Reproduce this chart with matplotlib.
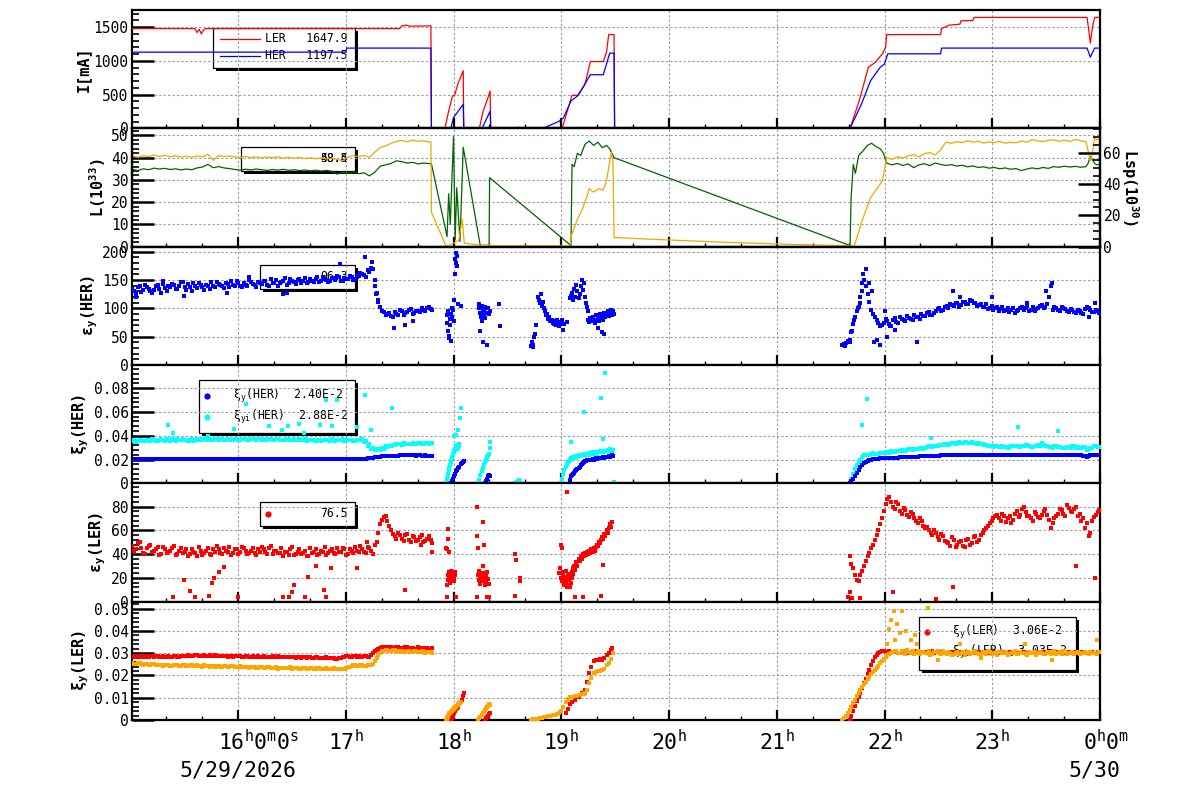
import numpy as np
import matplotlib
matplotlib.use("Agg")
import matplotlib.pyplot as plt
from matplotlib.patches import Rectangle
from matplotlib.lines import Line2D
from matplotlib.ticker import MultipleLocator, FixedLocator, FuncFormatter
import matplotlib.transforms as mtransforms

# ======================= DATA (hours of 5/29/2026) =======================
# Panel 1: beam currents [mA]
LER_T = [15.02, 15.60, 15.62, 15.64, 15.66, 15.68, 15.70, 17.50, 17.52, 17.56, 17.60, 17.79, 17.795,
         17.92, 17.955, 17.99, 18.01, 18.04, 18.09, 18.095, 18.24, 18.275, 18.32, 18.34, 18.345,
         18.58, 18.60, 18.62, 18.79, 19.01, 19.10, 19.16, 19.22, 19.27, 19.39, 19.42, 19.44, 19.49, 19.495,
         21.68, 21.765, 21.85, 21.915, 21.98, 22.01, 22.02, 22.52, 22.53, 22.60, 22.70, 22.71, 22.82, 22.83,
         23.88, 23.90, 23.91, 23.93, 23.95, 24.0]
LER_I = [1480, 1480, 1420, 1470, 1400, 1460, 1480, 1480, 1520, 1530, 1515, 1520, 0,
         0, 255, 480, 490, 655, 855, 0, 0, 255, 455, 555, 0,
         0, 20, 0, 0, 10, 490, 490, 655, 990, 990, 1130, 1390, 1390, 0,
         0, 405, 905, 980, 1105, 1200, 1390, 1390, 1480, 1530, 1545, 1595, 1600, 1645,
         1645, 1400, 1265, 1500, 1645, 1645]
HER_T = [15.02, 15.04, 17.00, 17.01, 17.79, 17.795, 17.975, 17.99, 18.0, 18.09, 18.095,
         18.265, 18.34, 18.345, 18.83, 18.98, 19.02, 19.09, 19.15, 19.20, 19.27, 19.39, 19.42, 19.45,
         19.49, 19.495, 21.68, 21.785, 21.87, 21.96, 22.00, 22.03, 22.52, 22.53, 23.88, 23.91, 23.95, 24.0]
HER_I = [1100, 1130, 1130, 1190, 1190, 0, 0, 100, 160, 355, 0,
         0, 255, 0, 0, 105, 155, 405, 480, 605, 795, 795, 955, 1115,
         1115, 0, 0, 355, 705, 905, 955, 1105, 1105, 1190, 1190, 1055, 1190, 1190]

# Panel 2: luminosity (orange) and specific luminosity (green); 3-minute samples + explicit points
LUM_A0 = 15.02
LUM_A = [40.8, 40.2, 40.9, 40.5, 41.2, 40.6, 41.0, 40.4, 40.9, 40.3, 40.7, 40.2, 40.8, 40.4, 41.5, 38.8,
         41.0, 40.5, 40.8, 40.3, 40.1, 40.6, 40.0, 40.4, 39.9, 40.3, 40.0, 40.4, 39.8, 40.2, 39.7, 40.1,
         39.6, 40.0, 39.5, 39.9, 39.4, 39.8, 39.2, 38.6, 40.3, 40.9, 40.5, 41.0, 40.2, 42.5, 44.6, 45.2,
         46.5, 47.3, 47.8, 47.2, 47.9, 47.4, 47.6, 47.0]
LUM_B_T = [17.79, 17.795, 17.93, 17.95, 18.0, 18.05, 18.08, 18.10, 18.2, 18.33, 18.34, 19.08, 19.09,
           19.15, 19.195, 19.24, 19.26, 19.30, 19.345, 19.39, 19.42, 19.44, 19.465, 19.48, 19.49,
           19.86, 20.5, 21.14, 21.62, 21.72, 21.79, 21.87, 21.98]
LUM_B = [47.2, 15.5, 0.3, 0.5, 1.5, 3.0, 12.5, 1.5, 1.0, 0.8, 0.4, 0.4, 4.5,
         12.3, 16.8, 22.9, 26.0, 24.5, 26.0, 25.5, 29.5, 35.6, 42.4, 38.0, 4.1,
         3.3, 2.0, 1.0, 0.5, 0.3, 11.4, 22.0, 29.5]
LUM_C0 = 22.02
LUM_C = [40.1, 39.2, 40.5, 39.8, 40.8, 41.3, 40.4, 41.8, 42.3, 41.2, 43.5, 47.0, 46.5, 47.2, 46.8, 47.6,
         47.0, 47.4, 46.6, 47.1, 46.8, 47.3, 46.5, 47.0, 46.7, 47.5, 47.0, 48.1, 47.6, 47.2, 47.8, 48.0,
         47.4, 47.9, 47.3, 48.2, 47.6, 47.2]
LUM_D_T = [23.89, 23.91, 23.93, 23.95, 23.97, 24.0]
LUM_D = [43.0, 38.5, 42.0, 49.2, 48.0, 48.5]

LSP_A = [34.8, 34.2, 35.0, 34.6, 35.3, 34.9, 35.2, 34.7, 35.0, 34.5, 34.9, 34.6, 35.4, 35.8, 37.0, 35.5,
         36.0, 35.4, 35.1, 34.7, 34.4, 34.8, 34.5, 34.9, 34.6, 34.3, 34.7, 34.4, 34.8, 34.3, 34.6, 34.2,
         34.5, 34.1, 34.4, 34.0, 34.3, 33.9, 32.6, 33.4, 33.0, 33.5, 32.8, 33.2, 31.8, 33.5, 36.2, 36.8,
         37.4, 38.6, 38.2, 37.6, 37.9, 37.2, 37.6, 37.4]
LSP_B_T = [17.795, 17.94, 17.955, 17.97, 18.0, 18.015, 18.03, 18.06, 18.09, 18.25, 18.33, 18.335,
           19.09, 19.10, 19.12, 19.15, 19.18, 19.22, 19.26, 19.30, 19.34, 19.38, 19.42, 19.45, 19.49,
           21.68, 21.69, 21.71, 21.73, 21.76, 21.80, 21.84, 21.88, 21.92, 21.96, 21.99]
LSP_B = [37.2, 4.5, 23.8, 10.0, 49.5, 3.0, 26.5, 2.3, 44.7, 0.0, 0.0, 31.0,
         0.5, 37.0, 36.0, 42.0, 41.0, 46.0, 47.5, 45.5, 47.0, 44.5, 45.5, 44.0, 40.0,
         0.5, 22.0, 37.0, 33.0, 41.0, 43.0, 45.5, 46.5, 45.0, 44.0, 42.0]
LSP_C = [37.5, 36.8, 37.4, 36.5, 37.2, 35.5, 36.8, 37.3, 36.4, 37.6, 37.0, 36.5, 36.9, 36.2, 36.6, 35.9,
         36.3, 35.6, 35.9, 35.3, 35.6, 35.0, 35.4, 34.8, 35.1, 34.2, 34.9, 35.4, 35.0, 35.6, 35.2, 36.0,
         35.7, 36.2, 35.8, 36.1, 35.7, 36.0]
LSP_D = [37.5, 40.5, 39.0, 37.5, 36.8, 37.0]

# Panel 3: emittance HER (2-minute samples, second list offset by 1 minute, + explicit points)
EPSH_A0 = 15.02
EPSH_A = [135, 128, 140, 132, 138, 130, 133, 141, 127, 136, 139, 143, 135, 140, 146, 132, 138, 144, 136,
          141, 133, 140, 147, 137, 143, 139, 145, 138, 142, 148, 140, 144, 139, 147, 141, 146, 143, 149,
          140, 145, 150, 144, 148, 142, 151, 146, 150, 145, 153, 147, 149, 152, 146, 155, 150, 148, 153,
          157, 149, 154, 151, 156, 152, 158, 161, 155, 165, 170, 128, 102, 94, 90, 86, 93, 88, 95, 92,
          97, 90, 96, 94, 98, 101, 99]
EPSH_A2 = [131, 137, 129, 142, 134, 127, 139, 135, 143, 130, 137, 141, 134, 147, 138, 143, 131, 139, 145,
           137, 142, 135, 139, 146, 141, 136, 143, 149, 139, 144, 137, 142, 150, 143, 138, 145, 148, 141,
           152, 144, 139, 147, 153, 145, 149, 143, 151, 148, 144, 152, 147, 155, 149, 151, 146, 154, 150,
           156, 148, 152, 158, 150, 155, 163, 159, 168, 172, 150, 115, 96, 88, 92, 84, 90, 97, 89, 94,
           99, 91, 95, 100, 96, 102, 97]
EPSH_C0 = 21.61
EPSH_C = [35, 38, 45, 72, 95, 110, 150, 125, 98, 85, 75, 70, 82, 72, 80, 76, 84, 79, 86, 81, 88, 84, 90,
          86, 93, 89, 96, 101, 98, 105, 108, 104, 110, 106, 112, 108, 113, 109, 106, 103, 107, 101, 98,
          103, 99, 95, 101, 97, 92, 98, 103, 100, 96, 102, 99, 104, 100, 108, 140, 102, 97, 103, 99, 94,
          98, 92, 96, 90, 102, 97, 93, 95]
EPSH_C2 = [37, 42, 58, 85, 102, 130, 140, 112, 90, 80, 68, 74, 78, 69, 83, 75, 81, 77, 83, 79, 85, 82,
           87, 92, 88, 91, 99, 95, 103, 100, 106, 109, 103, 111, 107, 114, 110, 105, 108, 102, 99, 104,
           100, 96, 102, 98, 94, 100, 96, 101, 97, 104, 98, 95, 101, 106, 103, 120, 98, 100, 95, 101,
           96, 99, 94, 97, 91, 99, 100, 94, 98, 92]
EPSH_X_T = [15.05, 15.3, 15.5, 15.9, 16.1, 16.42, 16.45, 16.95, 17.18, 17.24, 17.27, 17.28, 17.3, 17.45,
            17.55, 17.62,
            17.935, 17.94, 17.945, 17.95, 17.955, 17.96, 17.965, 17.97, 17.975, 17.98, 17.985, 17.99,
            17.995, 18.0, 18.005, 18.01, 18.015, 18.02, 18.025, 18.03, 18.035, 18.045, 18.07,
            18.235, 18.24, 18.245, 18.25, 18.255, 18.26, 18.265, 18.27, 18.275, 18.28, 18.285, 18.29,
            18.295, 18.30, 18.31, 18.32, 18.33, 18.34, 18.425, 18.43,
            18.72, 18.73, 18.735, 18.74, 18.75, 18.76, 18.77, 18.78, 18.79, 18.80, 18.81, 18.82, 18.83,
            18.84, 18.85, 18.86, 18.87, 18.88, 18.89, 18.90, 18.91, 18.92, 18.93, 18.94, 18.95, 18.96,
            18.97, 18.98, 18.99, 19.0, 19.01, 19.02, 19.03, 19.05,
            19.08, 19.09, 19.10, 19.11, 19.12, 19.13, 19.14, 19.15, 19.16, 19.17, 19.18, 19.19, 19.20,
            19.21, 19.22, 19.23, 19.24, 19.25,
            19.25, 19.26, 19.27, 19.28, 19.29, 19.30, 19.31, 19.32, 19.33, 19.34, 19.35, 19.36, 19.37,
            19.38, 19.39, 19.40, 19.41, 19.42, 19.43, 19.44, 19.45, 19.46, 19.47, 19.48, 19.49, 19.38,
            19.40, 19.34,
            21.63, 21.66, 21.68, 21.70, 21.72, 21.75, 21.77, 21.79, 21.80, 21.83, 21.86, 21.88, 21.90,
            21.93, 21.96, 22.0, 22.02, 22.05, 22.10, 22.30, 22.64, 22.70, 23.0, 23.32, 23.5, 23.55,
            23.90, 23.95]
EPSH_X = [120, 148, 122, 128, 155, 125, 127, 178, 190, 182, 140, 125, 112, 65, 70, 78,
          88, 75, 95, 60, 52, 48, 82, 70, 42, 90, 100, 85, 98, 115, 78, 160, 188, 197, 180, 192, 175,
          108, 105,
          108, 100, 92, 60, 85, 105, 78, 98, 40, 88, 95, 102, 83, 92, 35, 100, 90, 95, 108, 68,
          34, 40, 32, 36, 50, 55, 70, 120, 115, 110, 125, 105, 112, 100, 96, 88, 90, 82, 85, 78, 80,
          75, 72, 77, 70, 80, 73, 68, 76, 72, 80, 62, 72, 76,
          118, 122, 128, 115, 135, 120, 142, 130, 118, 125, 140, 150, 132, 145, 120, 110, 102, 95,
          80, 76, 83, 78, 85, 80, 74, 88, 79, 84, 77, 90, 82, 86, 79, 92, 84, 88, 95, 86, 92, 98, 88,
          95, 90, 58, 55, 65,
          33, 40, 40, 60, 80, 100, 120, 145, 160, 170, 145, 130, 40, 45, 35, 95, 50, 68, 62, 40, 130,
          120, 120, 110, 130, 145, 85, 110]

# Panel 4: beam-beam parameter HER (xi_y blue, xi_yi cyan)
XIH_A0 = 15.02
XIH_A_B = [0.0207, 0.0204, 0.0206, 0.0205, 0.0207, 0.0204, 0.0206, 0.0205, 0.0203, 0.0206, 0.0205,
           0.0207, 0.0204, 0.0206, 0.0205, 0.0204, 0.0206, 0.0205, 0.0207, 0.0205, 0.0204, 0.0206,
           0.0205, 0.0206, 0.0204, 0.0205, 0.0206, 0.0204, 0.0205, 0.0206, 0.0205, 0.0204, 0.0205,
           0.0206, 0.0204, 0.0205, 0.0204, 0.0206, 0.0205, 0.0204, 0.0205, 0.0203, 0.0205, 0.0204,
           0.0206, 0.0204, 0.0203, 0.0205, 0.0204, 0.0203, 0.0205, 0.0204, 0.0203, 0.0204, 0.0202,
           0.0204, 0.0203, 0.0202, 0.0204, 0.0203, 0.0202, 0.0204, 0.0201, 0.0203, 0.0205, 0.0208,
           0.0212, 0.0216, 0.0220, 0.0224, 0.0227, 0.0229, 0.0231, 0.0232, 0.0233, 0.0234, 0.0235,
           0.0234, 0.0235, 0.0233, 0.0234, 0.0233, 0.0232, 0.0233]
XIH_A_B2 = [0.0205, 0.0206, 0.0204, 0.0206, 0.0205, 0.0206, 0.0204, 0.0206, 0.0205, 0.0204, 0.0206,
            0.0205, 0.0205, 0.0204, 0.0206, 0.0205, 0.0204, 0.0206, 0.0205, 0.0206, 0.0205, 0.0204,
            0.0206, 0.0205, 0.0205, 0.0206, 0.0204, 0.0205, 0.0206, 0.0204, 0.0205, 0.0206, 0.0204,
            0.0205, 0.0205, 0.0204, 0.0206, 0.0205, 0.0204, 0.0205, 0.0204, 0.0205, 0.0203, 0.0205,
            0.0204, 0.0205, 0.0204, 0.0203, 0.0205, 0.0204, 0.0203, 0.0204, 0.0203, 0.0205, 0.0203,
            0.0202, 0.0204, 0.0203, 0.0202, 0.0204, 0.0203, 0.0202, 0.0202, 0.0204, 0.0206, 0.0210,
            0.0214, 0.0218, 0.0222, 0.0226, 0.0228, 0.0230, 0.0232, 0.0233, 0.0234, 0.0235, 0.0234,
            0.0235, 0.0234, 0.0234, 0.0233, 0.0234, 0.0232, 0.0233]
XIH_A_C = [0.0355, 0.0348, 0.0362, 0.0358, 0.0365, 0.0352, 0.0368, 0.0360, 0.0371, 0.0357, 0.0364,
           0.0369, 0.0358, 0.0366, 0.0372, 0.0361, 0.0367, 0.0359, 0.0370, 0.0364, 0.0374, 0.0362,
           0.0368, 0.0372, 0.0365, 0.0370, 0.0363, 0.0375, 0.0368, 0.0371, 0.0364, 0.0373, 0.0367,
           0.0376, 0.0369, 0.0372, 0.0365, 0.0370, 0.0374, 0.0366, 0.0371, 0.0363, 0.0368, 0.0372,
           0.0364, 0.0369, 0.0362, 0.0367, 0.0371, 0.0363, 0.0366, 0.0360, 0.0368, 0.0362, 0.0365,
           0.0359, 0.0366, 0.0361, 0.0364, 0.0358, 0.0363, 0.0367, 0.0360, 0.0365, 0.0370, 0.0355,
           0.0330, 0.0300, 0.0285, 0.0280, 0.0290, 0.0305, 0.0315, 0.0320, 0.0330, 0.0326, 0.0334,
           0.0330, 0.0336, 0.0331, 0.0338, 0.0333, 0.0340, 0.0336]
XIH_A_C2 = [0.0361, 0.0352, 0.0368, 0.0356, 0.0363, 0.0370, 0.0358, 0.0366, 0.0362, 0.0369, 0.0359,
            0.0365, 0.0372, 0.0363, 0.0368, 0.0357, 0.0371, 0.0365, 0.0362, 0.0373, 0.0366, 0.0370,
            0.0361, 0.0369, 0.0374, 0.0364, 0.0371, 0.0366, 0.0373, 0.0362, 0.0369, 0.0375, 0.0364,
            0.0371, 0.0367, 0.0374, 0.0362, 0.0368, 0.0371, 0.0364, 0.0373, 0.0366, 0.0362, 0.0370,
            0.0367, 0.0361, 0.0369, 0.0364, 0.0360, 0.0368, 0.0363, 0.0367, 0.0359, 0.0366, 0.0362,
            0.0369, 0.0360, 0.0365, 0.0370, 0.0361, 0.0366, 0.0359, 0.0368, 0.0362, 0.0345, 0.0318,
            0.0292, 0.0282, 0.0286, 0.0298, 0.0310, 0.0318, 0.0324, 0.0331, 0.0328, 0.0335, 0.0327,
            0.0333, 0.0329, 0.0337, 0.0332, 0.0339, 0.0334, 0.0341]
XIH_C0 = 21.677
XIH_C_B = [0.0, 0.004, 0.009, 0.014, 0.017, 0.019, 0.0200, 0.0205, 0.0208, 0.0210, 0.0212, 0.0213,
           0.0215, 0.0216, 0.0218, 0.0219, 0.0221, 0.0222, 0.0224, 0.0225, 0.0226, 0.0228, 0.0229,
           0.0230, 0.0232, 0.0233, 0.0234, 0.0235, 0.0236, 0.0237, 0.0238, 0.0238, 0.0239, 0.0240,
           0.0239, 0.0240, 0.0241, 0.0240, 0.0239, 0.0240, 0.0241, 0.0240, 0.0239, 0.0240, 0.0241,
           0.0240, 0.0240, 0.0239, 0.0240, 0.0241, 0.0240, 0.0239, 0.0240, 0.0241, 0.0240, 0.0239,
           0.0240, 0.0241, 0.0240, 0.0240, 0.0239, 0.0241, 0.0240, 0.0239, 0.0240, 0.0232, 0.0225,
           0.0238, 0.0241, 0.0240]
XIH_C_B2 = [0.002, 0.0065, 0.0115, 0.0155, 0.018, 0.0195, 0.0203, 0.0207, 0.0209, 0.0211, 0.0213,
            0.0214, 0.0216, 0.0217, 0.0219, 0.0220, 0.0222, 0.0223, 0.0225, 0.0226, 0.0227, 0.0229,
            0.0230, 0.0231, 0.0233, 0.0234, 0.0235, 0.0236, 0.0237, 0.0238, 0.0239, 0.0239, 0.0240,
            0.0240, 0.0240, 0.0241, 0.0240, 0.0239, 0.0240, 0.0241, 0.0240, 0.0240, 0.0239, 0.0241,
            0.0240, 0.0240, 0.0239, 0.0240, 0.0241, 0.0240, 0.0239, 0.0240, 0.0241, 0.0240, 0.0240,
            0.0239, 0.0241, 0.0240, 0.0240, 0.0239, 0.0240, 0.0241, 0.0240, 0.0240, 0.0236, 0.0228,
            0.0230, 0.0240, 0.0241, 0.0240]
XIH_C_C = [0.0, 0.008, 0.015, 0.020, 0.0236, 0.024, 0.0245, 0.025, 0.0248, 0.0255, 0.026, 0.0258,
           0.0265, 0.027, 0.0268, 0.0275, 0.028, 0.0285, 0.029, 0.0288, 0.0295, 0.030, 0.031, 0.0305,
           0.0315, 0.032, 0.0325, 0.033, 0.0328, 0.0335, 0.034, 0.0338, 0.0345, 0.034, 0.0348, 0.0342,
           0.0335, 0.033, 0.032, 0.031, 0.0305, 0.031, 0.0302, 0.0308, 0.030, 0.031, 0.0315, 0.0305,
           0.031, 0.032, 0.0312, 0.0305, 0.031, 0.0318, 0.0325, 0.031, 0.0302, 0.031, 0.0305, 0.030,
           0.0298, 0.0305, 0.031, 0.0295, 0.030, 0.0302, 0.028, 0.0295, 0.031, 0.0305]
XIH_C_C2 = [0.004, 0.012, 0.018, 0.022, 0.0242, 0.0238, 0.0252, 0.0246, 0.0258, 0.0252, 0.0262,
            0.0268, 0.0262, 0.0272, 0.0278, 0.0272, 0.0285, 0.0282, 0.0292, 0.0298, 0.0292, 0.0305,
            0.0312, 0.0318, 0.0312, 0.0325, 0.0332, 0.0325, 0.0338, 0.0332, 0.0345, 0.0338, 0.0350,
            0.0335, 0.0340, 0.0332, 0.0328, 0.0322, 0.0315, 0.0312, 0.0318, 0.0305, 0.0312, 0.0302,
            0.0308, 0.0318, 0.0310, 0.0302, 0.0315, 0.0325, 0.0308, 0.0315, 0.0322, 0.0335, 0.0315,
            0.0308, 0.0300, 0.0312, 0.0302, 0.0296, 0.0308, 0.0300, 0.0312, 0.0303, 0.0296, 0.0305,
            0.0290, 0.0300, 0.0312, 0.0302]
XIH_XB_T = [17.975, 17.985, 17.995, 18.005, 18.015, 18.025, 18.035, 18.045, 18.055, 18.065, 18.075,
            18.085, 18.095, 18.29, 18.30, 18.31, 18.32, 18.33, 18.335,
            19.08, 19.09, 19.10, 19.11, 19.12, 19.13, 19.14, 19.15, 19.16, 19.17, 19.18, 19.19, 19.20,
            19.21, 19.22, 19.23, 19.24, 19.25, 19.26, 19.27, 19.28, 19.29, 19.30, 19.31, 19.32, 19.33,
            19.34, 19.35, 19.36, 19.37, 19.38, 19.39, 19.40, 19.41, 19.42, 19.43, 19.44, 19.45, 19.46,
            19.47, 19.48]
XIH_XB = [0.0, 0.002, 0.004, 0.006, 0.008, 0.010, 0.011, 0.013, 0.014, 0.016, 0.017, 0.018, 0.0185,
          0.0, 0.002, 0.004, 0.006, 0.007, 0.0065,
          0.003, 0.006, 0.007, 0.008, 0.009, 0.010, 0.011, 0.012, 0.013, 0.014, 0.015, 0.016, 0.017,
          0.018, 0.0185, 0.019, 0.0195, 0.020, 0.020, 0.0195, 0.020, 0.0205, 0.020, 0.0205, 0.021,
          0.0205, 0.021, 0.021, 0.0215, 0.021, 0.0215, 0.022, 0.0215, 0.022, 0.0225, 0.022, 0.023,
          0.0225, 0.023, 0.0235, 0.023]
XIH_XC_T = [17.932, 17.937, 17.942, 17.947, 17.952, 17.957, 17.962, 17.967, 17.972, 17.977, 17.982,
            17.987, 17.992, 17.997, 18.002, 18.007, 18.012, 18.017, 18.022, 18.027, 18.032, 18.037,
            18.042, 18.047, 18.052, 18.0, 18.02, 18.06, 18.069, 18.04,
            18.231, 18.24, 18.25, 18.26, 18.27, 18.28, 18.29, 18.30, 18.31, 18.32, 18.33, 18.335, 18.338,
            18.575, 18.585, 18.595, 18.605, 18.615,
            19.0, 19.01, 19.02, 19.03, 19.04, 19.05, 19.06, 19.07, 19.08, 19.09, 19.10, 19.11, 19.12,
            19.13, 19.14, 19.15, 19.16, 19.17, 19.18, 19.19, 19.20, 19.21, 19.22, 19.23, 19.24, 19.25,
            19.26, 19.27, 19.28, 19.29, 19.30, 19.31, 19.32, 19.33, 19.34, 19.35, 19.36, 19.37, 19.38,
            19.39, 19.40, 19.41, 19.42, 19.43, 19.44, 19.45, 19.46, 19.47, 19.48,
            19.09, 19.21, 19.37, 19.41, 19.39, 19.49,
            15.35, 15.40, 15.72, 15.96, 16.07, 16.29, 16.41, 16.46, 16.57, 16.61, 16.76, 16.82, 16.87,
            16.92, 17.10, 17.18, 17.23, 17.43, 21.79, 21.84, 22.43, 23.24, 23.61]
XIH_XC = [0.0, 0.002, 0.004, 0.006, 0.008, 0.011, 0.013, 0.015, 0.017, 0.019, 0.021, 0.022, 0.024,
          0.025, 0.027, 0.026, 0.028, 0.029, 0.030, 0.031, 0.029, 0.032, 0.030, 0.031, 0.033, 0.040,
          0.041, 0.055, 0.063, 0.045,
          0.0, 0.003, 0.007, 0.010, 0.013, 0.016, 0.018, 0.020, 0.022, 0.023, 0.025, 0.030, 0.035,
          0.0, 0.001, 0.002, 0.003, 0.002,
          0.0, 0.004, 0.008, 0.011, 0.014, 0.016, 0.018, 0.019, 0.020, 0.021, 0.0205, 0.022, 0.021,
          0.0215, 0.023, 0.022, 0.0235, 0.023, 0.024, 0.0235, 0.024, 0.025, 0.024, 0.025, 0.0245,
          0.025, 0.024, 0.0255, 0.025, 0.026, 0.025, 0.0255, 0.026, 0.025, 0.0265, 0.026, 0.027,
          0.026, 0.0265, 0.027, 0.026, 0.0275, 0.027, 0.028, 0.027, 0.0285, 0.028, 0.027, 0.028,
          0.035, 0.060, 0.072, 0.093, 0.037, 0.001,
          0.049, 0.042, 0.040, 0.046, 0.067, 0.048, 0.045, 0.048, 0.050, 0.042, 0.049, 0.070, 0.048,
          0.070, 0.047, 0.074, 0.045, 0.063, 0.049, 0.071, 0.038, 0.047, 0.044]

# Panel 5: emittance LER
EPSL_A0 = 15.02
EPSL_A = [47, 44, 50, 41, 45, 48, 43, 46, 40, 44, 42, 45, 39, 43, 41, 44, 40, 42, 38, 43, 41, 45, 39,
          42, 44, 40, 43, 46, 41, 44, 42, 45, 40, 43, 41, 44, 46, 42, 45, 40, 43, 41, 38, 42, 44, 39,
          42, 40, 43, 38, 41, 44, 40, 42, 39, 43, 41, 45, 42, 44, 40, 43, 46, 42, 44, 41, 45, 40, 50,
          65, 71, 68, 60, 55, 58, 53, 56, 52, 55, 51, 54, 50, 53, 52]
EPSL_A2 = [43, 49, 45, 40, 47, 42, 44, 39, 46, 41, 43, 47, 40, 45, 42, 38, 44, 41, 46, 39, 43, 40, 44,
           47, 41, 45, 42, 39, 44, 40, 46, 43, 41, 45, 39, 42, 44, 40, 47, 43, 41, 45, 42, 39, 46, 40,
           44, 41, 38, 45, 42, 39, 43, 46, 41, 44, 40, 42, 45, 39, 44, 41, 43, 47, 42, 46, 43, 48, 58,
           69, 72, 64, 57, 53, 56, 51, 57, 50, 54, 52, 56, 51, 55, 49]
EPSL_C0 = 21.677
EPSL_C = [38, 28, 18, 22, 30, 38, 45, 52, 60, 70, 82, 88, 80, 84, 76, 79, 73, 75, 70, 66, 68, 62, 60,
          56, 58, 52, 55, 50, 47, 52, 48, 51, 46, 53, 49, 55, 52, 58, 62, 66, 70, 73, 68, 72, 70, 66,
          74, 71, 78, 75, 72, 68, 74, 70, 76, 73, 62, 70, 74, 77, 72, 79, 75, 80, 74, 70, 66, 58, 71,
          75]
EPSL_C2 = [32, 22, 17, 26, 34, 41, 48, 56, 65, 76, 86, 84, 78, 82, 74, 77, 71, 74, 68, 70, 64, 63, 58,
           60, 54, 57, 51, 49, 54, 46, 50, 47, 52, 48, 54, 50, 56, 60, 64, 68, 72, 70, 74, 67, 72, 69,
           76, 73, 80, 72, 70, 75, 71, 73, 78, 69, 66, 72, 78, 74, 81, 76, 78, 72, 68, 62, 55, 68, 73,
           77]
EPSL_X_T = [15.40, 15.50, 15.55, 15.60, 15.73, 15.76, 15.78, 15.82, 15.87, 16.00, 16.42, 16.47, 16.50,
            16.52, 16.62, 16.65, 16.72, 16.80, 16.82, 16.86, 17.10, 17.20, 17.55, 17.70, 17.80,
            17.93, 17.935, 17.94, 17.945, 17.95, 17.955, 17.96, 17.965, 17.97, 17.975, 17.98, 17.985,
            17.99, 17.995, 18.0, 18.005, 18.01, 18.015, 18.02, 18.025, 17.945, 17.95, 17.94, 17.96,
            18.215, 18.22, 18.225, 18.23, 18.235, 18.24, 18.245, 18.25, 18.255, 18.26, 18.265, 18.27,
            18.275, 18.28, 18.285, 18.29, 18.295, 18.30, 18.305, 18.31, 18.315, 18.32, 18.325, 18.33,
            18.22, 18.575, 18.578, 18.615, 18.618, 18.575,
            18.98, 18.99, 19.0, 19.005, 19.01, 19.015, 19.02, 19.025, 19.03, 19.035, 19.04, 19.045,
            19.05, 19.055, 19.06, 19.065, 19.07, 19.075, 19.08, 19.085, 19.09, 19.095, 19.10, 19.105,
            19.11, 19.12, 19.13, 19.14, 19.15, 19.16, 19.17, 19.18, 19.19, 19.20, 19.21, 19.22, 19.23,
            19.24, 19.25, 19.26, 19.27, 19.28, 19.29, 19.30, 19.31, 19.32, 19.33, 19.34, 19.35, 19.36,
            19.37, 19.38, 19.39, 19.40, 19.41, 19.42, 19.43, 19.44, 19.45, 19.46, 19.47, 19.05, 19.0,
            19.39, 19.13, 19.2, 19.37,
            21.66, 21.68, 21.70, 21.77, 22.08, 22.48, 22.64, 23.78, 23.95]
EPSL_X = [4, 18, 9, 4, 5, 16, 20, 25, 29, 4, 4, 4, 8, 14, 4, 21, 30, 10, 4, 28, 28, 50, 10, 48, 42,
          45, 14, 4, 22, 18, 25, 20, 16, 23, 19, 26, 21, 18, 24, 20, 17, 25, 22, 4, 4, 61, 53, 44, 42,
          55, 80, 45, 22, 18, 26, 15, 20, 24, 17, 21, 30, 67, 48, 24, 19, 14, 22, 17, 25, 4, 19, 15,
          4, 4, 40, 35, 20, 17, 5,
          24, 28, 20, 45, 17, 25, 22, 14, 21, 18, 26, 15, 20, 12, 18, 23, 14, 19, 12, 22, 16, 25, 20,
          28, 23, 30, 27, 33, 30, 36, 34, 38, 36, 40, 38, 41, 39, 42, 40, 43, 41, 44, 42, 45, 43, 46,
          48, 47, 50, 49, 52, 54, 53, 57, 55, 60, 58, 62, 65, 63, 67, 92, 48, 31, 4, 4, 5,
          4, 8, 3, 3, 8, 2, 12, 30, 20]

# Panel 6: beam-beam parameter LER (xi_y red, xi_yi orange)
XIL_A0 = 15.02
XIL_A_R = [0.0287, 0.0284, 0.0286, 0.0283, 0.0285, 0.0287, 0.0284, 0.0286, 0.0285, 0.0283, 0.0286,
           0.0284, 0.0287, 0.0285, 0.0288, 0.0286, 0.0289, 0.0287, 0.0290, 0.0288, 0.0291, 0.0289,
           0.0287, 0.0290, 0.0288, 0.0286, 0.0289, 0.0287, 0.0285, 0.0288, 0.0286, 0.0284, 0.0287,
           0.0285, 0.0283, 0.0286, 0.0284, 0.0285, 0.0283, 0.0286, 0.0284, 0.0282, 0.0285, 0.0283,
           0.0281, 0.0284, 0.0282, 0.0280, 0.0283, 0.0281, 0.0279, 0.0282, 0.0280, 0.0278, 0.0281,
           0.0279, 0.0277, 0.0275, 0.0279, 0.0284, 0.0287, 0.0285, 0.0288, 0.0286, 0.0284, 0.0287,
           0.0285, 0.0300, 0.0316, 0.0323, 0.0328, 0.0326, 0.0329, 0.0325, 0.0327, 0.0323, 0.0326,
           0.0322, 0.0325, 0.0321, 0.0324, 0.0320, 0.0323, 0.0321]
XIL_A_R2 = [0.0285, 0.0288, 0.0283, 0.0287, 0.0284, 0.0286, 0.0288, 0.0283, 0.0287, 0.0285, 0.0284,
            0.0288, 0.0285, 0.0289, 0.0286, 0.0290, 0.0287, 0.0291, 0.0286, 0.0289, 0.0287, 0.0290,
            0.0288, 0.0286, 0.0289, 0.0287, 0.0285, 0.0288, 0.0286, 0.0287, 0.0284, 0.0286, 0.0283,
            0.0287, 0.0285, 0.0283, 0.0286, 0.0283, 0.0285, 0.0282, 0.0286, 0.0283, 0.0284, 0.0281,
            0.0283, 0.0280, 0.0284, 0.0281, 0.0279, 0.0282, 0.0280, 0.0281, 0.0278, 0.0280, 0.0277,
            0.0279, 0.0276, 0.0278, 0.0281, 0.0286, 0.0284, 0.0288, 0.0285, 0.0283, 0.0286, 0.0284,
            0.0292, 0.0309, 0.0320, 0.0326, 0.0330, 0.0327, 0.0324, 0.0328, 0.0325, 0.0321, 0.0327,
            0.0324, 0.0320, 0.0326, 0.0322, 0.0325, 0.0319, 0.0322]
XIL_A_O = [0.0257, 0.0252, 0.0254, 0.0249, 0.0252, 0.0248, 0.0250, 0.0246, 0.0249, 0.0245, 0.0248,
           0.0244, 0.0247, 0.0243, 0.0246, 0.0244, 0.0247, 0.0243, 0.0246, 0.0242, 0.0245, 0.0241,
           0.0244, 0.0240, 0.0243, 0.0239, 0.0242, 0.0240, 0.0243, 0.0239, 0.0241, 0.0238, 0.0240,
           0.0236, 0.0239, 0.0235, 0.0238, 0.0234, 0.0237, 0.0233, 0.0236, 0.0232, 0.0235, 0.0233,
           0.0236, 0.0232, 0.0234, 0.0231, 0.0234, 0.0230, 0.0233, 0.0231, 0.0234, 0.0230, 0.0232,
           0.0229, 0.0232, 0.0228, 0.0231, 0.0229, 0.0236, 0.0243, 0.0247, 0.0244, 0.0248, 0.0242,
           0.0246, 0.0252, 0.0278, 0.0302, 0.0312, 0.0315, 0.0310, 0.0313, 0.0308, 0.0312, 0.0307,
           0.0311, 0.0306, 0.0310, 0.0305, 0.0309, 0.0304, 0.0307]
XIL_A_O2 = [0.0253, 0.0256, 0.0250, 0.0253, 0.0247, 0.0251, 0.0245, 0.0248, 0.0244, 0.0247, 0.0243,
            0.0246, 0.0245, 0.0242, 0.0245, 0.0241, 0.0245, 0.0242, 0.0244, 0.0240, 0.0243, 0.0239,
            0.0242, 0.0241, 0.0238, 0.0241, 0.0238, 0.0242, 0.0237, 0.0240, 0.0236, 0.0239, 0.0235,
            0.0238, 0.0234, 0.0237, 0.0233, 0.0236, 0.0232, 0.0235, 0.0231, 0.0234, 0.0232, 0.0235,
            0.0231, 0.0233, 0.0230, 0.0233, 0.0229, 0.0232, 0.0230, 0.0233, 0.0229, 0.0231, 0.0228,
            0.0230, 0.0227, 0.0230, 0.0228, 0.0232, 0.0240, 0.0245, 0.0243, 0.0247, 0.0241, 0.0245,
            0.0249, 0.0264, 0.0292, 0.0308, 0.0314, 0.0309, 0.0314, 0.0307, 0.0311, 0.0306, 0.0312,
            0.0305, 0.0309, 0.0304, 0.0308, 0.0303, 0.0306, 0.0302]
XIL_C0_O = 21.61
XIL_C_O = [0.0, 0.002, 0.0045, 0.0075, 0.0106, 0.0135, 0.0160, 0.0182, 0.0205, 0.0225, 0.0243, 0.0265,
           0.0282, 0.0296, 0.0305, 0.0312, 0.0300, 0.0308, 0.0315, 0.0302, 0.0297, 0.0310, 0.0304,
           0.0299, 0.0308, 0.0296, 0.0305, 0.0300, 0.0311, 0.0298, 0.0303, 0.0295, 0.0307, 0.0301,
           0.0293, 0.0304, 0.0299, 0.0309, 0.0296, 0.0302, 0.0298, 0.0306, 0.0300, 0.0294, 0.0305,
           0.0299, 0.0291, 0.0303, 0.0308, 0.0297, 0.0302, 0.0296, 0.0306, 0.0300, 0.0293, 0.0304,
           0.0298, 0.0303, 0.0297, 0.0308, 0.0301, 0.0295, 0.0304, 0.0299, 0.0306, 0.0301, 0.0297,
           0.0303, 0.0300, 0.0305, 0.0302, 0.0298]
XIL_C_O2 = [0.001, 0.0032, 0.006, 0.009, 0.012, 0.0148, 0.017, 0.0195, 0.0215, 0.0235, 0.0255,
            0.0275, 0.0290, 0.0300, 0.0308, 0.0302, 0.0312, 0.0298, 0.0306, 0.0310, 0.0303, 0.0296,
            0.0307, 0.0300, 0.0293, 0.0304, 0.0309, 0.0297, 0.0302, 0.0306, 0.0294, 0.0303, 0.0298,
            0.0307, 0.0300, 0.0295, 0.0305, 0.0301, 0.0292, 0.0304, 0.0308, 0.0297, 0.0302, 0.0306,
            0.0299, 0.0304, 0.0296, 0.0301, 0.0298, 0.0305, 0.0300, 0.0294, 0.0303, 0.0307, 0.0299,
            0.0302, 0.0295, 0.0306, 0.0300, 0.0297, 0.0304, 0.0310, 0.0298, 0.0302, 0.0296, 0.0304,
            0.0300, 0.0306, 0.0298, 0.0303, 0.0300, 0.0305]
XIL_C0_R = 21.677
XIL_C_R = [0.0, 0.004, 0.0085, 0.0121, 0.0165, 0.0205, 0.0245, 0.0281, 0.0300, 0.0310, 0.0306, 0.0309,
           0.0304, 0.0307, 0.0303, 0.0306, 0.0302, 0.0305, 0.0308, 0.0304, 0.0307, 0.0303, 0.0306,
           0.0309, 0.0305, 0.0302, 0.0306, 0.0303, 0.0307, 0.0304, 0.0301, 0.0305, 0.0302, 0.0306,
           0.0303, 0.0300, 0.0304, 0.0301, 0.0305, 0.0302, 0.0299, 0.0303, 0.0300, 0.0304, 0.0301,
           0.0298, 0.0302, 0.0299, 0.0303, 0.0300, 0.0304, 0.0301, 0.0305, 0.0302, 0.0306, 0.0303,
           0.0300, 0.0304, 0.0301, 0.0305, 0.0302, 0.0306, 0.0303, 0.0299, 0.0303, 0.0306, 0.0302,
           0.0305, 0.0301, 0.0304]
XIL_C_R2 = [0.002, 0.0062, 0.0103, 0.0143, 0.0185, 0.0225, 0.0263, 0.0292, 0.0306, 0.0308, 0.0303,
            0.0307, 0.0305, 0.0302, 0.0306, 0.0304, 0.0307, 0.0303, 0.0305, 0.0302, 0.0306, 0.0304,
            0.0308, 0.0303, 0.0305, 0.0307, 0.0302, 0.0305, 0.0303, 0.0306, 0.0304, 0.0301, 0.0305,
            0.0302, 0.0304, 0.0301, 0.0303, 0.0305, 0.0300, 0.0304, 0.0301, 0.0303, 0.0299, 0.0302,
            0.0304, 0.0300, 0.0303, 0.0301, 0.0305, 0.0302, 0.0300, 0.0304, 0.0302, 0.0305, 0.0301,
            0.0304, 0.0302, 0.0306, 0.0303, 0.0301, 0.0305, 0.0302, 0.0304, 0.0301, 0.0305, 0.0303,
            0.0300, 0.0304, 0.0302, 0.0305]
XIL_XR_T = [17.975, 17.985, 17.995, 18.005, 18.015, 18.025, 18.035, 18.045, 18.055, 18.065, 18.075,
            18.085, 18.095, 18.29, 18.30, 18.31, 18.32, 18.33, 18.335,
            19.045, 19.06, 19.08, 19.10, 19.13, 19.16, 19.19, 19.22, 19.24, 19.26, 19.28, 19.30, 19.32,
            19.34, 19.36, 19.38, 19.40, 19.42, 19.44, 19.46, 19.47]
XIL_XR = [0.0, 0.001, 0.002, 0.003, 0.004, 0.005, 0.0055, 0.006, 0.007, 0.008, 0.009, 0.011, 0.012,
          0.0, 0.001, 0.0015, 0.002, 0.0025, 0.003,
          0.003, 0.005, 0.007, 0.008, 0.009, 0.0105, 0.012, 0.0135, 0.017, 0.021, 0.024, 0.0265,
          0.0268, 0.027, 0.0272, 0.027, 0.028, 0.029, 0.030, 0.0315, 0.0325]
XIL_XO_T = [17.932, 17.937, 17.942, 17.947, 17.952, 17.957, 17.962, 17.967, 17.972, 17.977, 17.982,
            17.987, 17.992, 17.997, 18.002, 18.007, 18.012, 18.017, 18.022, 18.027, 18.032, 18.037,
            18.042, 18.047, 18.052, 18.057, 18.062, 18.067,
            18.231, 18.24, 18.25, 18.26, 18.27, 18.28, 18.29, 18.30, 18.31, 18.32, 18.33, 18.335,
            18.72, 18.74, 18.76, 18.78, 18.80, 18.82, 18.84, 18.86, 18.88, 18.90, 18.92, 18.94, 18.96,
            18.98, 19.0, 19.02, 19.04, 19.06, 19.08, 19.10, 19.13, 19.15, 19.17, 19.19, 19.21, 19.22,
            19.24, 19.26, 19.28, 19.30, 19.32, 19.34, 19.36, 19.38, 19.40, 19.42, 19.44, 19.46, 19.48,
            22.02, 22.04, 22.06, 22.09, 22.10, 22.12, 22.14, 22.16, 22.20, 22.25, 22.28, 22.30, 22.40,
            22.50, 22.70, 22.90, 23.30, 23.55, 23.97]
XIL_XO = [0.0, 0.0005, 0.001, 0.0015, 0.002, 0.0025, 0.003, 0.0032, 0.0035, 0.0038, 0.004, 0.0042,
          0.0045, 0.0048, 0.005, 0.0052, 0.0055, 0.0058, 0.006, 0.0063, 0.0065, 0.0068, 0.007, 0.0072,
          0.0075, 0.0078, 0.008, 0.0082,
          0.0, 0.0008, 0.0015, 0.0022, 0.003, 0.0038, 0.0045, 0.0052, 0.006, 0.0065, 0.007, 0.0068,
          0.0002, 0.0003, 0.0004, 0.0006, 0.0008, 0.001, 0.0012, 0.0014, 0.0016, 0.0019, 0.0021,
          0.0024, 0.0026, 0.003, 0.004, 0.006, 0.008, 0.0095, 0.0102, 0.0105, 0.0108, 0.011, 0.0113,
          0.0116, 0.0119, 0.012, 0.0135, 0.0165, 0.019, 0.021, 0.0215, 0.022, 0.0222, 0.0225, 0.023,
          0.0245, 0.0255, 0.0275, 0.030,
          0.034, 0.041, 0.045, 0.049, 0.036, 0.043, 0.039, 0.049, 0.040, 0.036, 0.038, 0.034, 0.0505,
          0.027, 0.034, 0.028, 0.034, 0.027, 0.036]

# Legend texts
LEG1 = [("LER   1647.9", "#ff0000"), ("HER   1197.5", "#0000ff")]
LEG2 = ["58.5", "48.4"]
LEG3 = "96.3"
LEG4 = [(r"ξ$_\mathregular{y}$(HER)  2.40E-2", "#0000ff"), (r"ξ$_\mathregular{yi}$(HER)  2.88E-2", "#00ffff")]
LEG5 = "76.5"
LEG6 = [(r"ξ$_\mathregular{y}$(LER)  3.06E-2", "#ff0000"), (r"ξ$_\mathregular{yi}$(LER)  3.03E-2", "#ffa500")]

HOURS = [16, 17, 18, 19, 20, 21, 22, 23, 24]
HOUR_LABELS = [r"$\mathregular{16^h0^m0^s}$", r"$\mathregular{17^h}$", r"$\mathregular{18^h}$",
               r"$\mathregular{19^h}$", r"$\mathregular{20^h}$", r"$\mathregular{21^h}$",
               r"$\mathregular{22^h}$", r"$\mathregular{23^h}$", r"$\mathregular{0^h0^m}$"]
DATE_LABELS = [("5/29/2026", 16.0), ("5/30", 23.944)]

# ======================= STYLE =======================
plt.rcParams['font.family'] = ['DejaVu Sans Mono', 'DejaVu Sans']
plt.rcParams['mathtext.fontset'] = 'custom'
plt.rcParams['mathtext.rm'] = 'DejaVu Sans Mono'
plt.rcParams['mathtext.it'] = 'DejaVu Sans Mono'
plt.rcParams['mathtext.bf'] = 'DejaVu Sans Mono:bold'

W, H = 1200, 798
fig = plt.figure(figsize=(12, 7.98), dpi=100)

XMIN, XMAX = 15.016, 24.0
LEFT, RIGHT = 132, 1100
TOP0, PH = 10.0, 118.33

RED, BLUE, CYAN, ORANGE_S = "#ff0000", "#0000ff", "#00ffff", "#ffa500"
ORANGE_L, GREEN = "#eea800", "#006400"
ODD = 1.0 / 60.0   # second sample list is offset by one minute


def reg(t0, vals, dt_min):
    return t0 + np.arange(len(vals)) * dt_min / 60.0


def fmt(v, p):
    if abs(v) < 1e-12:
        return "0"
    return "%g" % v


axes = []
for k in range(6):
    top = TOP0 + k * PH
    ax = fig.add_axes([LEFT / W, 1 - (top + PH) / H, (RIGHT - LEFT) / W, PH / H])
    ax.set_xlim(XMIN, XMAX)
    for s in ax.spines.values():
        s.set_linewidth(1.6)
    ax.xaxis.set_major_locator(FixedLocator(HOURS))
    ax.xaxis.set_minor_locator(FixedLocator([h + f for h in range(15, 24) for f in (1 / 3, 2 / 3)]))
    ax.tick_params(axis='x', which='major', direction='in', length=7.5, width=1.6, top=False,
                   labelbottom=False)
    ax.tick_params(axis='x', which='minor', direction='in', length=3, width=1.0, top=False)
    ax.tick_params(axis='y', which='major', direction='in', length=16, width=1.8, right=False,
                   labelsize=10.5, pad=2.5)
    ax.tick_params(axis='y', which='minor', direction='in', length=5, width=1.2, right=False)
    ax.yaxis.set_major_formatter(FuncFormatter(fmt))
    ax.grid(True, which='major', color='#999999', linestyle=(0, (2, 2)), linewidth=0.8)
    axes.append(ax)

ax1, ax2, ax3, ax4, ax5, ax6 = axes
MS = 2.9


def pts(ax, t, v, c, ms=MS, z=3):
    ax.plot(t, v, ls='none', marker='s', ms=ms, mew=0, color=c, zorder=z)


def box(ax, x0, y0, x1, y1):
    ax.add_patch(Rectangle((x0 / W, 1 - y1 / H), (x1 - x0) / W, (y1 - y0) / H,
                           transform=fig.transFigure, fill=False, lw=0.9, ec='black',
                           zorder=1, clip_on=False))
    ax.add_patch(Rectangle((x1 / W, 1 - (y1 + 2.5) / H), 2.5 / W, (y1 - y0 - 0.5) / H,
                           transform=fig.transFigure, fc='black', lw=0, zorder=1, clip_on=False))
    ax.add_patch(Rectangle(((x0 + 3) / W, 1 - (y1 + 2.5) / H), (x1 - x0) / W, 2.5 / H,
                           transform=fig.transFigure, fc='black', lw=0, zorder=1, clip_on=False))


def ftext(ax, x, y, s, ha='left', size=8.3):
    ax.text(x / W, 1 - y / H, s, transform=fig.transFigure, ha=ha, va='center', fontsize=size,
            zorder=1, clip_on=False)


def fdot(ax, x, y, c, ms=4.5):
    ax.add_line(Line2D([x / W], [1 - y / H], transform=fig.transFigure, marker='o', ms=ms, mew=0,
                       color=c, ls='none', zorder=1, clip_on=False))


def fline(ax, x0, x1, y, c):
    ax.add_line(Line2D([x0 / W, x1 / W], [1 - y / H, 1 - y / H], transform=fig.transFigure,
                       color=c, lw=0.9, zorder=1, clip_on=False))


# ---- Panel 1
ax1.plot(LER_T, LER_I, color=RED, lw=0.9, zorder=3)
ax1.plot(HER_T, HER_I, color=BLUE, lw=0.9, zorder=3)
ax1.set_ylim(0, 1755)
ax1.yaxis.set_major_locator(MultipleLocator(500))
ax1.yaxis.set_minor_locator(MultipleLocator(100))
ax1.set_ylabel("I[mA]", fontsize=11, fontweight='bold', labelpad=2)
box(ax1, 213, 28, 355, 68)
fline(ax1, 220, 260, 38.5, LEG1[0][1])
ftext(ax1, 265, 38.5, LEG1[0][0])
fline(ax1, 220, 260, 55.5, LEG1[1][1])
ftext(ax1, 265, 55.5, LEG1[1][0])

# ---- Panel 2
lum_t = np.concatenate([reg(LUM_A0, LUM_A, 3), LUM_B_T, reg(LUM_C0, LUM_C, 3), LUM_D_T])
lum_v = np.concatenate([LUM_A, LUM_B, LUM_C, LUM_D])
lsp_t = np.concatenate([reg(LUM_A0, LSP_A, 3), LSP_B_T, reg(LUM_C0, LSP_C, 3), LUM_D_T])
lsp_v = np.concatenate([LSP_A, LSP_B, LSP_C, LSP_D])
ax2.plot(lsp_t, lsp_v, color=GREEN, lw=0.9, zorder=3)
ax2.plot(lum_t, lum_v, color=ORANGE_L, lw=0.9, zorder=3)
ax2.set_ylim(0, 53.2)
ax2.yaxis.set_major_locator(MultipleLocator(10))
ax2.yaxis.set_minor_locator(MultipleLocator(2))
ax2.set_ylabel(r"L(10$^\mathbf{33}$)", fontsize=11, fontweight='bold', labelpad=2)
tw = ax2.twinx()
tw.set_ylim(0, 75.5)
tw.yaxis.set_major_locator(MultipleLocator(20))
tw.yaxis.set_minor_locator(MultipleLocator(5))
tw.yaxis.set_major_formatter(FuncFormatter(fmt))
tw.tick_params(axis='y', which='major', direction='in', length=16, width=1.8, labelsize=10.5, pad=2.5)
tw.tick_params(axis='y', which='minor', direction='in', length=5, width=1.2)
tw.set_ylabel(r"Lsp(10$^\mathbf{30}$)", fontsize=11, fontweight='bold', rotation=270, labelpad=14)
for s in tw.spines.values():
    s.set_linewidth(1.6)
box(ax2, 241, 147, 355, 171)
ftext(ax2, 348, 158.5, LEG2[0], ha='right')
ftext(ax2, 348, 158.5, LEG2[1], ha='right')

# ---- Panel 3
pts(ax3, reg(EPSH_A0, EPSH_A, 2), EPSH_A, BLUE)
pts(ax3, reg(EPSH_A0 + ODD, EPSH_A2, 2), EPSH_A2, BLUE)
pts(ax3, reg(EPSH_C0, EPSH_C, 2), EPSH_C, BLUE)
pts(ax3, reg(EPSH_C0 + ODD, EPSH_C2, 2), EPSH_C2, BLUE)
pts(ax3, EPSH_X_T, EPSH_X, BLUE)
ax3.set_ylim(0, 209)
ax3.yaxis.set_major_locator(MultipleLocator(50))
ax3.yaxis.set_minor_locator(MultipleLocator(10))
ax3.set_ylabel(r"ε$_\mathbf{y}$(HER)", fontsize=11, fontweight='bold', labelpad=2)
box(ax3, 260, 265, 355, 289)
ftext(ax3, 348, 277, LEG3, ha='right')

# ---- Panel 4
pts(ax4, reg(XIH_A0, XIH_A_C, 2), XIH_A_C, CYAN)
pts(ax4, reg(XIH_A0 + ODD, XIH_A_C2, 2), XIH_A_C2, CYAN)
pts(ax4, reg(XIH_C0, XIH_C_C, 2), XIH_C_C, CYAN)
pts(ax4, reg(XIH_C0 + ODD, XIH_C_C2, 2), XIH_C_C2, CYAN)
pts(ax4, XIH_XC_T, XIH_XC, CYAN)
pts(ax4, reg(XIH_A0, XIH_A_B, 2), XIH_A_B, BLUE)
pts(ax4, reg(XIH_A0 + ODD, XIH_A_B2, 2), XIH_A_B2, BLUE)
pts(ax4, reg(XIH_C0, XIH_C_B, 2), XIH_C_B, BLUE)
pts(ax4, reg(XIH_C0 + ODD, XIH_C_B2, 2), XIH_C_B2, BLUE)
pts(ax4, XIH_XB_T, XIH_XB, BLUE)
ax4.set_ylim(0, 0.0995)
ax4.yaxis.set_major_locator(MultipleLocator(0.02))
ax4.yaxis.set_minor_locator(MultipleLocator(0.004))
ax4.set_ylabel(r"ξ$_\mathbf{y}$(HER)", fontsize=11, fontweight='bold', labelpad=2)
box(ax4, 199, 380, 355, 433)
fdot(ax4, 207, 396, LEG4[0][1])
ftext(ax4, 233, 396, LEG4[0][0])
fdot(ax4, 207, 417, LEG4[1][1])
ftext(ax4, 233, 417, LEG4[1][0])

# ---- Panel 5
pts(ax5, reg(EPSL_A0, EPSL_A, 2), EPSL_A, RED)
pts(ax5, reg(EPSL_A0 + ODD, EPSL_A2, 2), EPSL_A2, RED)
pts(ax5, reg(EPSL_C0, EPSL_C, 2), EPSL_C, RED)
pts(ax5, reg(EPSL_C0 + ODD, EPSL_C2, 2), EPSL_C2, RED)
pts(ax5, EPSL_X_T, EPSL_X, RED)
ax5.set_ylim(0, 99.5)
ax5.yaxis.set_major_locator(MultipleLocator(20))
ax5.yaxis.set_minor_locator(MultipleLocator(4))
ax5.set_ylabel(r"ε$_\mathbf{y}$(LER)", fontsize=11, fontweight='bold', labelpad=2)
box(ax5, 260, 502, 355, 526)
fdot(ax5, 268, 513.5, RED)
ftext(ax5, 348, 513.5, LEG5, ha='right')

# ---- Panel 6
pts(ax6, reg(XIL_A0, XIL_A_R, 2), XIL_A_R, RED)
pts(ax6, reg(XIL_A0 + ODD, XIL_A_R2, 2), XIL_A_R2, RED)
pts(ax6, reg(XIL_C0_R, XIL_C_R, 2), XIL_C_R, RED)
pts(ax6, reg(XIL_C0_R + ODD, XIL_C_R2, 2), XIL_C_R2, RED)
pts(ax6, XIL_XR_T, XIL_XR, RED)
pts(ax6, reg(XIL_A0, XIL_A_O, 2), XIL_A_O, ORANGE_S)
pts(ax6, reg(XIL_A0 + ODD, XIL_A_O2, 2), XIL_A_O2, ORANGE_S)
pts(ax6, reg(XIL_C0_O, XIL_C_O, 2), XIL_C_O, ORANGE_S)
pts(ax6, reg(XIL_C0_O + ODD, XIL_C_O2, 2), XIL_C_O2, ORANGE_S)
pts(ax6, XIL_XO_T, XIL_XO, ORANGE_S)
ax6.set_ylim(0, 0.0532)
ax6.yaxis.set_major_locator(MultipleLocator(0.01))
ax6.yaxis.set_minor_locator(MultipleLocator(0.002))
ax6.set_ylabel(r"ξ$_\mathbf{y}$(LER)", fontsize=11, fontweight='bold', labelpad=2)
box(ax6, 919, 617, 1076, 670)
fdot(ax6, 927, 632, LEG6[0][1])
ftext(ax6, 952, 632, LEG6[0][0])
fdot(ax6, 927, 652, LEG6[1][1])
ftext(ax6, 952, 652, LEG6[1][0])

# ---- time axis labels
bt = mtransforms.blended_transform_factory(ax6.transData, fig.transFigure)
for h, lab in zip(HOURS, HOUR_LABELS):
    if h == 16:
        ax6.text(h - 20 / 107.75, 1 - 750 / H, lab, transform=bt, ha='left', va='baseline',
                 fontsize=15.5, clip_on=False)
    elif h == 24:
        ax6.text(h - 17 / 107.75, 1 - 750 / H, lab, transform=bt, ha='left', va='baseline',
                 fontsize=15.5, clip_on=False)
    else:
        ax6.text(h, 1 - 750 / H, lab, transform=bt, ha='center', va='baseline', fontsize=15.5,
                 clip_on=False)
for lab, h in DATE_LABELS:
    ax6.text(h, 1 - 777 / H, lab, transform=bt, ha='center', va='baseline', fontsize=15.5,
             clip_on=False)

fig.savefig("out.png", dpi=100)
